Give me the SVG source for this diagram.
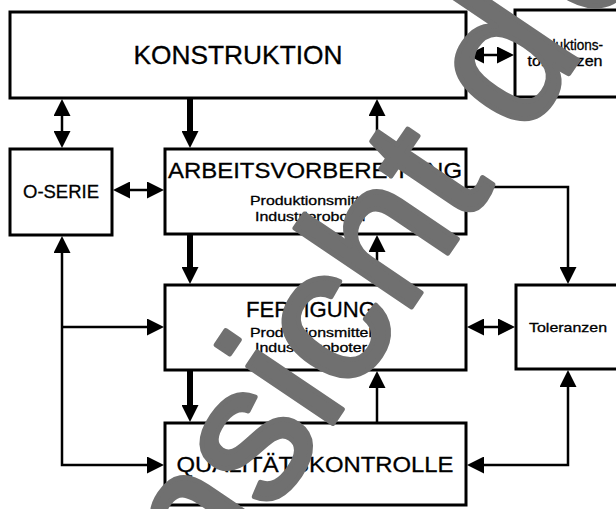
<svg xmlns="http://www.w3.org/2000/svg" width="616" height="509" viewBox="0 0 616 509">
<style>
.box{fill:#fff;stroke:#000;stroke-width:3}
.t{font-family:"Liberation Sans",Arial,sans-serif;fill:#000;stroke:#000;stroke-width:0.3;text-anchor:middle}
.big{font-size:22px}
.sm{font-size:13px}
.c{fill:none;stroke:#000;stroke-width:2.5}
.k{fill:none;stroke:#000;stroke-width:6}
.wm{font-family:"Liberation Sans",Arial,sans-serif;font-size:194px;fill:#707070;stroke:#707070;stroke-width:5;stroke-linejoin:round}
</style>
<defs>
<marker id="ah" markerUnits="userSpaceOnUse" viewBox="0 0 17 17" refX="6" refY="8.5" markerWidth="17" markerHeight="17" orient="auto-start-reverse">
<path d="M0,0 L17,8.5 L0,17 z" fill="#000"/>
</marker>
</defs>
<g id="konstruktion"><rect class="box" x="10" y="12" width="456" height="86"/><text class="t" x="238" y="64" font-size="25" textLength="209" lengthAdjust="spacingAndGlyphs">KONSTRUKTION</text></g>
<g id="produktionstoleranzen"><rect class="box" x="515" y="10" width="120" height="87"/><text class="t" x="565" y="50" font-size="14" textLength="76" lengthAdjust="spacingAndGlyphs">Produktions-</text><text class="t" x="565" y="66" font-size="14" textLength="75" lengthAdjust="spacingAndGlyphs">toleranzen</text></g>
<g id="oserie"><rect class="box" x="10" y="149" width="102" height="86"/><text class="t" x="61" y="198" font-size="18" textLength="76" lengthAdjust="spacingAndGlyphs">O-SERIE</text></g>
<g id="arbeitsvorbereitung"><rect class="box" x="165" y="149" width="301" height="85"/><text class="t big" x="315" y="178" textLength="294" lengthAdjust="spacingAndGlyphs">ARBEITSVORBEREITUNG</text><text class="t sm" x="311" y="205" textLength="122" lengthAdjust="spacingAndGlyphs">Produktionsmittel</text><text class="t sm" x="311" y="221" textLength="112" lengthAdjust="spacingAndGlyphs">Industrieroboter</text></g>
<g id="fertigung"><rect class="box" x="165" y="285" width="301" height="85"/><text class="t big" x="311" y="317" textLength="130" lengthAdjust="spacingAndGlyphs">FERTIGUNG</text><text class="t sm" x="311" y="337" textLength="122" lengthAdjust="spacingAndGlyphs">Produktionsmittel</text><text class="t sm" x="311" y="352" textLength="112" lengthAdjust="spacingAndGlyphs">Industrieroboter</text></g>
<g id="toleranzen"><rect class="box" x="516" y="285" width="120" height="84"/><text class="t" x="568" y="332" font-size="13.5" textLength="78" lengthAdjust="spacingAndGlyphs">Toleranzen</text></g>
<g id="qualitaetskontrolle"><rect class="box" x="165" y="423" width="301" height="82"/><text class="t big" x="315" y="472" textLength="277" lengthAdjust="spacingAndGlyphs">QUALITÄTSKONTROLLE</text></g>
<g id="connectors">
<path class="c" d="M478,55 H503" marker-start="url(#ah)" marker-end="url(#ah)"/>
<path class="c" d="M62,110 V137" marker-start="url(#ah)" marker-end="url(#ah)"/>
<path class="k" d="M190,99 V137" marker-end="url(#ah)"/>
<path class="c" d="M377,148 V110" marker-end="url(#ah)"/>
<path class="c" d="M124,190 H153" marker-start="url(#ah)" marker-end="url(#ah)"/>
<path class="k" d="M190,235 V273" marker-end="url(#ah)"/>
<path class="c" d="M377,284 V246" marker-end="url(#ah)"/>
<path class="c" d="M466,187 H568 V273" marker-end="url(#ah)"/>
<path class="c" d="M478,327 H504" marker-start="url(#ah)" marker-end="url(#ah)"/>
<path class="c" d="M62,247 V465 H153" marker-start="url(#ah)" marker-end="url(#ah)"/>
<path class="c" d="M62,327 H153" marker-end="url(#ah)"/>
<path class="k" d="M190,371 V411" marker-end="url(#ah)"/>
<path class="c" d="M377,422 V382" marker-end="url(#ah)"/>
<path class="c" d="M568,381 V465 H478" marker-start="url(#ah)" marker-end="url(#ah)"/>
</g>
<text class="wm" transform="translate(211,604) rotate(-56)">nsicht d<tspan dx="25">e</tspan></text>
</svg>
